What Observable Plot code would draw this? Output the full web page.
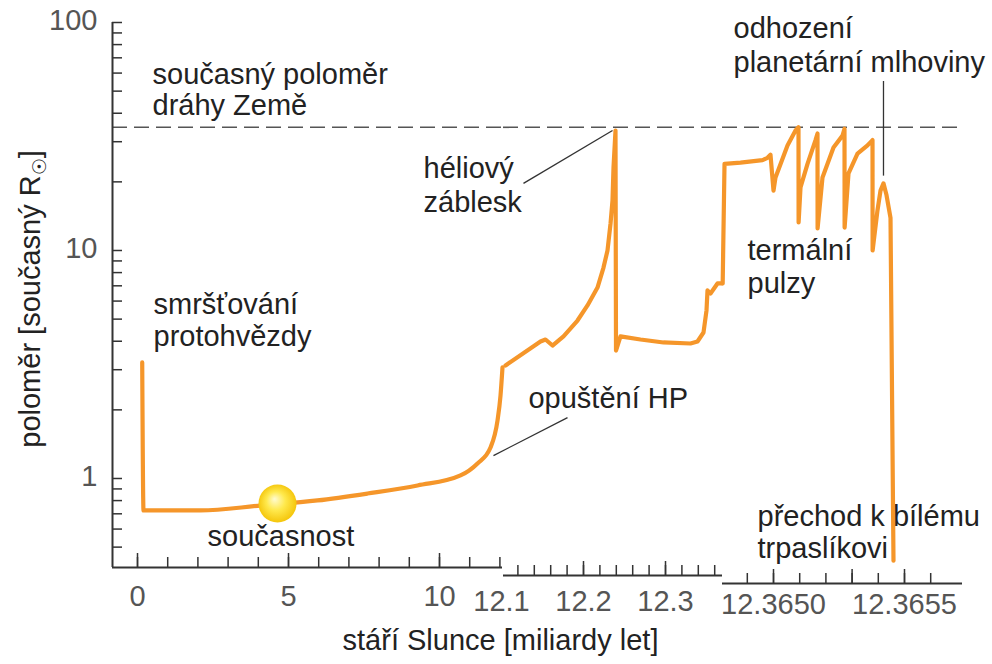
<!DOCTYPE html>
<html>
<head>
<meta charset="utf-8">
<script src="https://cdn.jsdelivr.net/npm/d3@7"></script>
<script src="https://cdn.jsdelivr.net/npm/@observablehq/plot@0.6"></script>
<style>
  html, body { margin: 0; padding: 0; background: #fff; }
  #chart { position: relative; width: 992px; height: 664px; overflow: hidden; }
  #chart svg { position: absolute; left: 0; top: 0; }
</style>
</head>
<body>
<div id="chart"></div>
<script>
// ---------------- DATA ----------------
// Segment 1: age 0 – 12.09 billion years
const age1 = [0.156, 0.199, 2.086, 4.073, 5.960, 7.616, 9.272, 10.695, 11.258, 11.689, 11.921, 12.020, 12.086];
const radius1 = [3.23, 0.724, 0.724, 0.761, 0.801, 0.859, 0.932, 1.031, 1.164, 1.368, 1.797, 2.31, 3.07];

// Segment 2: age 12.10 – 12.37 billion years
const age2 = [12.10488, 12.14756, 12.15366, 12.16220, 12.17561, 12.19268, 12.20488, 12.21707, 12.22439, 12.22927,
              12.23293, 12.23537, 12.23659, 12.23902, 12.23963, 12.24512, 12.26951, 12.29756, 12.33049, 12.33902,
              12.34634, 12.35000, 12.35122, 12.35488, 12.36341, 12.36900];
const radius2 = [3.13, 3.99, 4.07, 3.83, 4.20, 4.93, 5.74, 6.88, 8.42, 10.0,
                 13.1, 16.6, 23.1, 33.6, 3.64, 4.20, 4.07, 3.95, 3.91, 3.99,
                 4.37, 5.46, 6.68, 6.48, 7.17, 7.17];

// Segment 3: age 12.36481 – 12.36572 billion years (thermal pulses)
const age3 = [12.3648060, 12.3648130, 12.3648740, 12.3649580, 12.3649771, 12.3649885, 12.3650000, 12.3650076,
              12.3650534, 12.3650840, 12.3650954, 12.3650958, 12.3651031, 12.3651298, 12.3651603, 12.3651679,
              12.3651683, 12.3651870, 12.3652290, 12.3652634, 12.3652710, 12.3652714, 12.3652863, 12.3653206,
              12.3653588, 12.3653779, 12.3653783, 12.3653969, 12.3654084, 12.3654198, 12.3654313, 12.3654466,
              12.3654580];
const radius3 = [7.17, 24.0, 24.3, 24.9, 25.5, 26.3, 18.3, 20.9,
                 28.9, 33.6, 34.7, 13.27, 18.9, 24.0, 30.5, 32.6,
                 12.5, 20.9, 28.3, 31.9, 34.2, 12.6, 21.8, 26.6,
                 28.9, 30.5, 10.0, 15.0, 18.3, 19.7, 17.5, 13.9,
                 0.436];

// present-day Sun
const sunAge = [4.636];
const sunRadius = [0.777];

// current Earth orbit radius (dashed line)
const earthOrbit = [34.7];

// axis domains (broken x axis)
const xDomain1 = [-0.828, 12.086];
const xDomain2 = [12.10244, 12.36951];
const xDomain3 = [12.3648053, 12.3657214];
const yDomain = [0.407, 100];

// ticks
const yTicks = [0.5, 0.6, 0.7, 0.8, 0.9, 1, 2, 3, 4, 5, 6, 7, 8, 9, 10, 20, 30, 40, 50, 60, 70, 80, 90, 100];
const yTickLabels = [1, 10, 100];
const xTicks1 = [0, 1, 2, 3, 4, 5, 6, 7, 8, 9, 10, 11, 12];
const xMajor1 = [0, 5, 10];
const xTickLabels1 = [0, 5, 10];
const xTicks2 = [12.12, 12.14, 12.16, 12.18, 12.20, 12.22, 12.24, 12.26, 12.28, 12.30, 12.32, 12.34, 12.36];
const xMajor2 = [12.2, 12.3];
const xTickLabels2 = [12.1, 12.2, 12.3];
const xTicks3 = [12.3649, 12.3650, 12.3651, 12.3652, 12.3653, 12.3654, 12.3655, 12.3656];
const xMajor3 = [12.3650, 12.3653, 12.3655];
const xTickLabels3 = [12.3650, 12.3655];

// titles
const xTitle = "stáří Slunce [miliardy let]";
const yTitle = "poloměr [současný R☉]";

// annotations (text lines anchored at their baseline, in data units)
const notes1Text = ["současný poloměr", "dráhy Země", "smršťování", "protohvězdy", "současnost", "héliový", "záblesk"];
const notes1Age = [0.497, 0.497, 0.530, 0.530, 2.318, 9.47, 9.47];
const notes1Radius = [54.0, 39.1, 5.29, 3.83, 0.508, 20.7, 14.7];

const notes2Text = ["opuštění HP"];
const notes2Age = [12.1329];
const notes2Radius = [2.048];

const notes3Text = ["odhození", "planetární mlhoviny", "termální", "pulzy", "přechod k bílému", "trpaslíkovi"];
const notes3Age = [12.3648473, 12.3648473, 12.3649008, 12.3649008, 12.3649389, 12.3649389];
const notes3Radius = [85.1, 60.4, 9.04, 6.48, 0.622, 0.450];

// leader lines
const leader2 = [
  {x1: 12.1268, y1: 19.7, x2: 12.2354, y2: 33.6},   // héliový záblesk
  {x1: 12.0902, y1: 1.26, x2: 12.1805, y2: 1.85}    // opuštění HP
];
const leader3 = [
  {x1: 12.3654198, y1: 55.4, x2: 12.3654198, y2: 21.3} // odhození planetární mlhoviny
];

// ---------------- STYLE ----------------
const FONT = "'Liberation Sans', Arial, Helvetica, sans-serif";
const ORANGE = "#f5962a";
const INK = "#333";
const TXT = "#222";
const TICKTXT = "#555";
const FS = 29;

const zip = (xs, ys) => xs.map((x, i) => ({x, y: ys[i]}));
const notes = (t, a, r) => t.map((s, i) => ({text: s, x: a[i], y: r[i]}));

// tick lengths expressed as ratios on the log y scale (228 px per decade)
const tickRatio = Math.pow(10, 10 / 228);
const majorRatio = Math.pow(10, 14 / 228);

function xAxisMarks(ticks, major, labels, fmt, off, labelOff) {
  return [
    Plot.ruleY([yDomain[0]], {stroke: INK, strokeWidth: 2, dy: off}),
    Plot.ruleX(ticks, {x: d => d, y1: yDomain[0], y2: yDomain[0] * tickRatio, stroke: INK, strokeWidth: 1.5, dy: off}),
    Plot.ruleX(major, {x: d => d, y1: yDomain[0], y2: yDomain[0] * majorRatio, stroke: INK, strokeWidth: 1.5, dy: off}),
    Plot.text(labels, {x: d => d, frameAnchor: "bottom", text: d => fmt(d), dy: labelOff,
      lineAnchor: "middle", textAnchor: "middle", fill: TICKTXT, fontSize: FS})
  ];
}

function makePlot(marginLeft, marginRight, domain, marks) {
  return Plot.plot({
    width: 992,
    height: 664,
    marginTop: 22,
    marginBottom: 97,
    marginLeft,
    marginRight,
    x: {domain, axis: null},
    y: {type: "log", domain: yDomain, axis: null},
    style: {background: "none", overflow: "visible", fontFamily: FONT, fontSize: FS + "px", maxWidth: "none"},
    marks
  });
}

const dash = {stroke: "#555", strokeWidth: 1.6, strokeDasharray: "15,7"};
const lineStyle = {stroke: ORANGE, strokeWidth: 4.2, strokeLinejoin: "round", strokeLinecap: "round"};
const noteStyle = {x: "x", y: "y", text: "text", textAnchor: "start", lineAnchor: "bottom", fill: TXT, fontSize: FS};

// ---- Plot 1: 0 – 12 Gyr, with y axis ----
const plot1 = makePlot(112, 490, xDomain1, [
  Plot.ruleY(earthOrbit, dash),
  Plot.ruleX([xDomain1[0]], {stroke: INK, strokeWidth: 2}),
  Plot.ruleY(yTicks, {y: d => d, x1: xDomain1[0], x2: xDomain1[0] + 10 / 30.2, stroke: INK, strokeWidth: 1.5}),
  Plot.text(yTickLabels, {y: d => d, frameAnchor: "left", text: d => String(d), dx: -15, dy: -2,
    textAnchor: "end", lineAnchor: "middle", fill: TICKTXT, fontSize: FS}),
  ...xAxisMarks(xTicks1, xMajor1, xTickLabels1, d => String(d), 0, 29),
  Plot.line(zip(age1, radius1), {x: "x", y: "y", ...lineStyle, curve: "monotone-x"}),
  Plot.dot(zip(sunAge, sunRadius), {x: "x", y: "y", r: 19, fill: "url(#sunGrad)"}),
  Plot.text(notes(notes1Text, notes1Age, notes1Radius), noteStyle),
  Plot.text([xTitle], {frameAnchor: "bottom", text: d => d, dx: 193, dy: 82, lineAnchor: "bottom",
    textAnchor: "middle", fill: TXT, fontSize: FS}),
  Plot.text([yTitle], {frameAnchor: "left", text: d => d, dx: -82, dy: 4, rotate: -90, lineAnchor: "middle",
    textAnchor: "middle", fill: TXT, fontSize: FS})
]);

// ---- Plot 2: 12.10 – 12.37 Gyr ----
const plot2 = makePlot(503, 270, xDomain2, [
  Plot.ruleY(earthOrbit, dash),
  ...xAxisMarks(xTicks2, xMajor2, xTickLabels2, d3.format(".1f"), 8, 34),
  Plot.link(leader2, {x1: "x1", y1: "y1", x2: "x2", y2: "y2", stroke: "#333", strokeWidth: 1.3}),
  Plot.line(zip(age2, radius2), {x: "x", y: "y", ...lineStyle}),
  Plot.text(notes(notes2Text, notes2Age, notes2Radius), noteStyle)
]);

// ---- Plot 3: 12.3648 – 12.3657 Gyr ----
const plot3 = makePlot(722, 30, xDomain3, [
  Plot.ruleY(earthOrbit, dash),
  ...xAxisMarks(xTicks3, xMajor3, xTickLabels3, d3.format(".4f"), 16, 37),
  Plot.link(leader3, {x1: "x1", y1: "y1", x2: "x2", y2: "y2", stroke: "#333", strokeWidth: 1.3}),
  Plot.text(notes(notes3Text, notes3Age, notes3Radius), noteStyle),
  Plot.line(zip(age3, radius3), {x: "x", y: "y", ...lineStyle})
]);

// sun gradient
const defs = d3.select(plot1).insert("defs", ":first-child");
const grad = defs.append("radialGradient").attr("id", "sunGrad")
  .attr("cx", "50%").attr("cy", "50%").attr("r", "55%").attr("fx", "42%").attr("fy", "38%");
grad.append("stop").attr("offset", "0%").attr("stop-color", "#fffbd2");
grad.append("stop").attr("offset", "45%").attr("stop-color", "#ffe94d");
grad.append("stop").attr("offset", "100%").attr("stop-color", "#f3c000");

// subscript ☉ in the y title
d3.select(plot1).selectAll("text").each(function () {
  if (this.textContent === yTitle) {
    const t = d3.select(this);
    t.text("poloměr [současný R");
    t.append("tspan").attr("font-size", 19).attr("dy", 6).text("☉");
    t.append("tspan").attr("dy", -6).text("]");
  }
});

const chart = document.getElementById("chart");
chart.append(plot1, plot2, plot3);
</script>
</body>
</html>
